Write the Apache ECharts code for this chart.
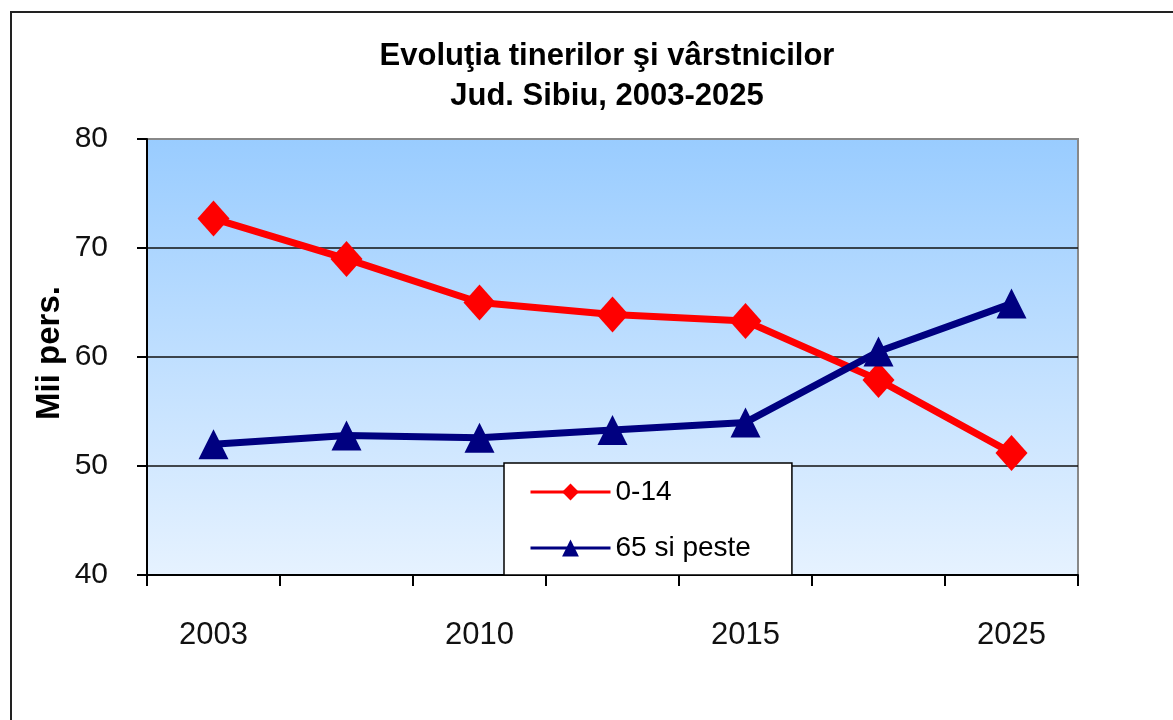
<!DOCTYPE html>
<html>
<head>
<meta charset="utf-8">
<script src="https://cdn.jsdelivr.net/npm/echarts@6/dist/echarts.min.js"></script>
<style>
html,body{margin:0;padding:0;background:#fff;}
#chart{width:1173px;height:720px;}
</style>
</head>
<body>
<div id="chart"></div>
<script>
const categories = ['2003', '2007', '2010', '2013', '2015', '2020', '2025'];
const young = [72.7, 69.0, 65.0, 63.9, 63.3, 57.9, 51.2];
const elderly = [52.0, 52.8, 52.6, 53.3, 54.0, 60.5, 64.9];
const seriesNames = ['0-14', '65 si peste'];
const titleLines = ['Evoluţia tinerilor şi vârstnicilor', 'Jud. Sibiu, 2003-2025'];
const yAxisName = 'Mii pers.';

const chart = echarts.init(document.getElementById('chart'));
const FONT = '"Liberation Sans", Arial, sans-serif';

chart.setOption({
  animation: false,
  textStyle: { fontFamily: FONT },
  graphic: [{
    type: 'rect',
    shape: { x: 11, y: 12, width: 1200, height: 800 },
    style: { fill: 'none', stroke: '#222', lineWidth: 2 },
    z: -10
  }, {
    type: 'text',
    x: 50, y: 353,
    rotation: Math.PI / 2,
    style: {
      text: yAxisName,
      align: 'center',
      verticalAlign: 'middle',
      fill: '#000',
      font: 'bold 33px "Liberation Sans", Arial, sans-serif'
    }
  }],
  title: {
    text: titleLines.join('\n'),
    left: 602,
    top: 31,
    textAlign: 'center',
    textStyle: { fontSize: 31, fontWeight: 'bold', color: '#000', lineHeight: 40, fontFamily: FONT }
  },
  grid: {
    left: 147, top: 139, width: 931, height: 436,
    show: true,
    borderColor: '#888',
    borderWidth: 2,
    backgroundColor: {
      type: 'linear', x: 0, y: 0, x2: 0, y2: 1,
      colorStops: [{ offset: 0, color: '#99ccff' }, { offset: 1, color: '#e6f2ff' }]
    }
  },
  legend: {
    orient: 'vertical',
    left: 504, top: 463,
    backgroundColor: '#fff',
    borderColor: '#000',
    borderWidth: 1.5,
    padding: [15, 41, 13, 25],
    itemGap: 28,
    itemWidth: 80,
    itemHeight: 21,
    lineStyle: { width: 3 },
    textStyle: { fontSize: 28, color: '#000', fontFamily: FONT },
    data: seriesNames
  },
  xAxis: {
    type: 'category',
    data: categories,
    boundaryGap: true,
    axisLine: { show: true, lineStyle: { color: '#000', width: 2 } },
    axisTick: { show: true, interval: 0, length: 11, lineStyle: { color: '#000', width: 2 } },
    axisLabel: { interval: 1, fontSize: 31, color: '#111', margin: 45, fontFamily: FONT },
    splitLine: { show: false }
  },
  yAxis: {
    type: 'value',
    min: 40, max: 80, interval: 10,
    axisLine: { show: true, lineStyle: { color: '#000', width: 2 } },
    axisTick: { show: true, length: 10, lineStyle: { color: '#000', width: 2 } },
    axisLabel: { fontSize: 30, color: '#111', margin: 39, fontFamily: FONT },
    splitLine: { show: true, showMinLine: false, showMaxLine: false, lineStyle: { color: '#111', width: 1.5 } }
  },
  series: [{
    name: seriesNames[0],
    type: 'line',
    data: young,
    symbol: 'diamond',
    symbolSize: [32, 36],
    lineStyle: { color: '#ff0000', width: 7 },
    itemStyle: { color: '#ff0000' }
  }, {
    name: seriesNames[1],
    type: 'line',
    data: elderly,
    symbol: 'triangle',
    symbolSize: [30, 30],
    lineStyle: { color: '#000080', width: 7 },
    itemStyle: { color: '#000080' }
  }]
});
</script>
</body>
</html>
